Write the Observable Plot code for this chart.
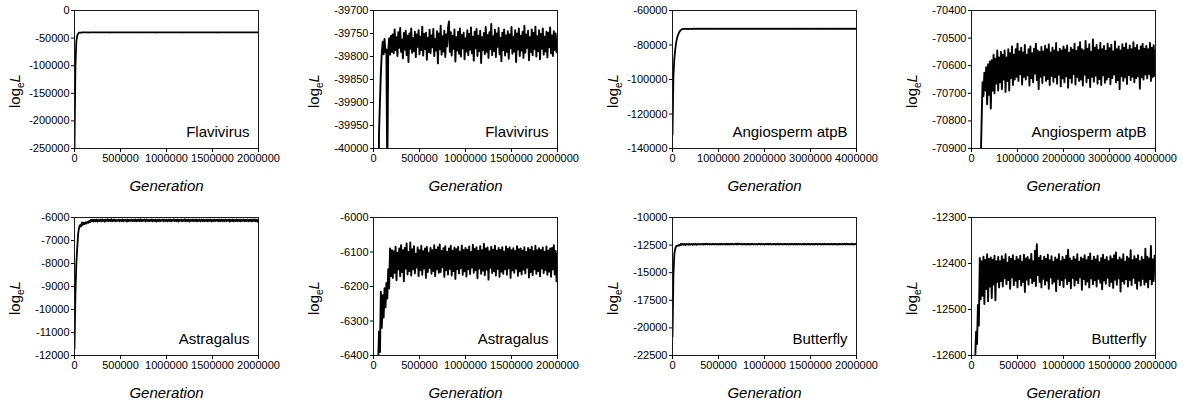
<!DOCTYPE html>
<html>
<head>
<meta charset="utf-8">
<script src="https://cdn.jsdelivr.net/npm/d3@7"></script>
<script src="https://cdn.jsdelivr.net/npm/@observablehq/plot@0.6"></script>
<style>
  html, body { margin: 0; padding: 0; background: #fff; overflow: hidden; }
  #chart { position: relative; width: 1200px; height: 404px; }
  .panel { position: absolute; width: 299px; height: 207px; }
  .panel svg { max-width: none !important; }
</style>
</head>
<body>
<div id="chart"></div>
<script>
// ---- Data: log-likelihood traces (sampled every `step` generations) ----
const flaviStep = 10000;
const flavivirus = [
  -248000, -100000, -56000, -45500, -41800, -40250, -39965, -39900, -39835, -39792,
  -39768, -39795, -39762, -39790, -39785, -40060, -39788, -39760, -39796, -39755, -39790,
  -39752, -39793, -39741, -39786, -39758, -39799, -39747, -39781, -39738, -39790,
  -39763, -39804, -39749, -39785, -39744, -39797, -39755, -39812, -39750, -39783,
  -39739, -39792, -39760, -39788, -39746, -39801, -39752, -39779, -39743, -39795,
  -39757, -39786, -39735, -39798, -39751, -39784, -39748, -39807, -39759, -39790,
  -39742, -39793, -39754, -39780, -39740, -39799, -39762, -39787, -39745, -39815,
  -39750, -39784, -39733, -39796, -39756, -39789, -39744, -39801, -39752, -39778,
  -39738, -39724, -39790, -39747, -39798, -39755, -39783, -39741, -39811, -39758,
  -39787, -39746, -39794, -39739, -39800, -39753, -39782, -39748, -39806, -39760,
  -39789, -39743, -39797, -39751, -39785, -39737, -39793, -39757, -39809, -39746,
  -39782, -39740, -39799, -39755, -39788, -39744, -39814, -39758, -39786, -39749,
  -39795, -39736, -39790, -39753, -39803, -39747, -39784, -39729, -39797, -39756,
  -39788, -39742, -39801, -39750, -39779, -39738, -39795, -39759, -39810, -39748,
  -39786, -39741, -39798, -39754, -39790, -39745, -39805, -39752, -39782, -39736,
  -39794, -39757, -39789, -39743, -39812, -39750, -39785, -39739, -39799, -39755,
  -39787, -39746, -39803, -39733, -39792, -39752, -39781, -39744, -39808, -39758,
  -39790, -39741, -39797, -39749, -39784, -39735, -39800, -39756, -39788, -39743,
  -39806, -39751, -39783, -39739, -39796, -39757, -39789, -39746, -39802, -39748,
  -39780, -39737, -39793, -39754, -39799, -39745, -39786, -39750, -39791, -39760
];

const angioStep = 20000;
const angiosperm = [
  -132000, -98000, -88000, -82500, -78500, -76000, -74200, -73000, -72000, -71400, -70950,
  -70800, -70660, -70710, -70625, -70690, -70605, -70740, -70595, -70705, -70585,
  -70755, -70580, -70690, -70560, -70700, -70575, -70665, -70545, -70690, -70570,
  -70660, -70550, -70685, -70560, -70650, -70545, -70695, -70570, -70655, -70540,
  -70690, -70555, -70645, -70530, -70670, -70560, -70650, -70540, -70640, -70520,
  -70655, -70548, -70630, -70535, -70668, -70552, -70640, -70525, -70650, -70560,
  -70635, -70540, -70672, -70530, -70645, -70555, -70660, -70538, -70628, -70520,
  -70652, -70545, -70685, -70550, -70640, -70532, -70663, -70548, -70635, -70528,
  -70655, -70540, -70648, -70523, -70670, -70552, -70637, -70535, -70658, -70545,
  -70642, -70518, -70665, -70550, -70632, -70538, -70675, -70545, -70646, -70530,
  -70660, -70541, -70638, -70527, -70680, -70553, -70645, -70535, -70662, -70542,
  -70630, -70520, -70668, -70547, -70641, -70532, -70655, -70515, -70650, -70540,
  -70672, -70545, -70633, -70510, -70660, -70538, -70645, -70522, -70677, -70549,
  -70640, -70505, -70658, -70535, -70636, -70525, -70665, -70543, -70648, -70518,
  -70670, -70540, -70635, -70528, -70662, -70546, -70650, -70520, -70641, -70537,
  -70667, -70524, -70645, -70548, -70632, -70512, -70660, -70540, -70652, -70530,
  -70685, -70545, -70638, -70522, -70655, -70535, -70643, -70519, -70666, -70542,
  -70634, -70527, -70652, -70540, -70640, -70515, -70660, -70536, -70645, -70525,
  -70638, -70545, -70683, -70530, -70642, -70521, -70650, -70538, -70632, -70528,
  -70646, -70540, -70630, -70518, -70655, -70535, -70641, -70526, -70637, -70545
];

const astraStep = 10000;
const astragalus = [
  -11700, -9300, -8000, -7300, -6700, -6430, -6330, -6390, -6215, -6320,
  -6225, -6290, -6205, -6260, -6190, -6235, -6150, -6205, -6090, -6170, -6095,
  -6175, -6098, -6160, -6085, -6182, -6102, -6150, -6090, -6170, -6080,
  -6158, -6095, -6185, -6088, -6148, -6075, -6165, -6100, -6155, -6072,
  -6168, -6092, -6150, -6083, -6162, -6105, -6145, -6087, -6170, -6095,
  -6152, -6082, -6166, -6098, -6148, -6090, -6175, -6085, -6158, -6102,
  -6146, -6088, -6163, -6095, -6155, -6080, -6170, -6093, -6150, -6086,
  -6160, -6078, -6158, -6097, -6144, -6089, -6172, -6083, -6153, -6100,
  -6165, -6090, -6149, -6082, -6168, -6096, -6155, -6087, -6178, -6092,
  -6150, -6085, -6162, -6099, -6147, -6081, -6166, -6094, -6156, -6088,
  -6171, -6093, -6150, -6084, -6164, -6100, -6145, -6079, -6160, -6091,
  -6152, -6086, -6176, -6097, -6148, -6083, -6163, -6095, -6154, -6076,
  -6167, -6090, -6151, -6087, -6180, -6098, -6146, -6085, -6161, -6093,
  -6155, -6082, -6168, -6096, -6149, -6088, -6172, -6094, -6157, -6086,
  -6163, -6099, -6150, -6084, -6166, -6091, -6147, -6087, -6175, -6095,
  -6153, -6089, -6160, -6097, -6148, -6083, -6169, -6092, -6156, -6090,
  -6165, -6096, -6151, -6086, -6162, -6100, -6145, -6088, -6174, -6093,
  -6158, -6085, -6167, -6098, -6150, -6082, -6163, -6095, -6155, -6089,
  -6170, -6094, -6148, -6087, -6161, -6099, -6152, -6084, -6166, -6096,
  -6157, -6090, -6172, -6088, -6150, -6080, -6165, -6097, -6185, -6105
];

const butterStep = 10000;
const butterfly = [
  -20800, -15200, -13300, -12820, -12610, -12548, -12575, -12490, -12535, -12388, -12478,
  -12395, -12470, -12385, -12488, -12392, -12455, -12380, -12482, -12390, -12450,
  -12387, -12475, -12392, -12445, -12383, -12480, -12395, -12440, -12386, -12452,
  -12395, -12438, -12384, -12450, -12392, -12432, -12380, -12445, -12398, -12436,
  -12386, -12455, -12390, -12430, -12382, -12447, -12394, -12437, -12385, -12452,
  -12391, -12434, -12383, -12448, -12396, -12440, -12381, -12462, -12389, -12435,
  -12386, -12446, -12392, -12431, -12379, -12443, -12395, -12438, -12372, -12449,
  -12358, -12425, -12388, -12440, -12383, -12452, -12394, -12433, -12385, -12446,
  -12390, -12437, -12381, -12455, -12393, -12430, -12384, -12444, -12396, -12439,
  -12387, -12460, -12391, -12433, -12380, -12447, -12395, -12436, -12386, -12451,
  -12392, -12432, -12383, -12445, -12370, -12438, -12389, -12454, -12394, -12431,
  -12385, -12448, -12391, -12436, -12380, -12443, -12396, -12430, -12387, -12457,
  -12390, -12434, -12382, -12446, -12393, -12439, -12386, -12452, -12378, -12432,
  -12394, -12445, -12385, -12436, -12391, -12450, -12383, -12433, -12397, -12442,
  -12388, -12456, -12381, -12437, -12392, -12444, -12386, -12431, -12395, -12449,
  -12384, -12440, -12390, -12453, -12382, -12435, -12376, -12446, -12393, -12432,
  -12387, -12461, -12391, -12438, -12380, -12444, -12396, -12434, -12385, -12450,
  -12389, -12436, -12371, -12447, -12393, -12431, -12384, -12443, -12390, -12455,
  -12382, -12437, -12395, -12448, -12386, -12433, -12392, -12446, -12368, -12440,
  -12385, -12452, -12389, -12434, -12362, -12445, -12391, -12438, -12383, -12410
];

// ---- Tick labels ----
const xTicks2M = [0, 500000, 1000000, 1500000, 2000000];
const xTicks4M = [0, 1000000, 2000000, 3000000, 4000000];
const flaviFullTicks = [0, -50000, -100000, -150000, -200000, -250000];
const flaviZoomTicks = [-39700, -39750, -39800, -39850, -39900, -39950, -40000];
const angioFullTicks = [-60000, -80000, -100000, -120000, -140000];
const angioZoomTicks = [-70400, -70500, -70600, -70700, -70800, -70900];
const astraFullTicks = [-6000, -7000, -8000, -9000, -10000, -11000, -12000];
const astraZoomTicks = [-6000, -6100, -6200, -6300, -6400];
const butterFullTicks = [-10000, -12500, -15000, -17500, -20000, -22500];
const butterZoomTicks = [-12300, -12400, -12500, -12600];

const xLabel = "Generation";

// ---- Panels ----
const panels = [
  {name: "Flavivirus", values: flavivirus, step: flaviStep, xTicks: xTicks2M, yTicks: flaviFullTicks, full: true},
  {name: "Flavivirus", values: flavivirus, step: flaviStep, xTicks: xTicks2M, yTicks: flaviZoomTicks, full: false},
  {name: "Angiosperm atpB", values: angiosperm, step: angioStep, xTicks: xTicks4M, yTicks: angioFullTicks, full: true},
  {name: "Angiosperm atpB", values: angiosperm, step: angioStep, xTicks: xTicks4M, yTicks: angioZoomTicks, full: false},
  {name: "Astragalus", values: astragalus, step: astraStep, xTicks: xTicks2M, yTicks: astraFullTicks, full: true},
  {name: "Astragalus", values: astragalus, step: astraStep, xTicks: xTicks2M, yTicks: astraZoomTicks, full: false},
  {name: "Butterfly", values: butterfly, step: butterStep, xTicks: xTicks2M, yTicks: butterFullTicks, full: true},
  {name: "Butterfly", values: butterfly, step: butterStep, xTicks: xTicks2M, yTicks: butterZoomTicks, full: false}
];

const FONT = "'Liberation Sans', Arial, Helvetica, sans-serif";
const W = 299, H = 207;
const mL = 74, mR = 41, mT = 10, mB = 59;
const chart = document.getElementById("chart");

panels.forEach((p, k) => {
  const col = k % 4, row = Math.floor(k / 4);
  const data = p.values.map((v, i) => ({gen: i * p.step, logL: v}));
  const xDom = d3.extent(p.xTicks);
  const yDom = d3.extent(p.yTicks);
  const fmt = d => String(d);

  const plot = Plot.plot({
    width: W, height: H,
    marginLeft: mL, marginRight: mR, marginTop: mT, marginBottom: mB,
    style: {fontFamily: FONT, fontSize: "11px", color: "#000", background: "transparent", overflow: "visible", maxWidth: "none"},
    x: {domain: xDom},
    y: {domain: yDom},
    marks: [
      Plot.line(data, {x: "gen", y: "logL", stroke: "#000", strokeWidth: p.full ? 1.8 : 1.9, clip: true}),
      Plot.frame({stroke: "#1a1a1a", strokeWidth: 1}),
      Plot.axisX({ticks: p.xTicks, tickFormat: fmt, tickSize: 4, tickPadding: 2, label: null, fontSize: 11}),
      Plot.axisY({ticks: p.yTicks, tickFormat: fmt, tickSize: 3, tickPadding: 2, label: null, fontSize: 11}),
      Plot.text([p.name], {frameAnchor: "bottom-right", dx: -9, dy: -12, fontSize: 15, fill: "#000"}),
      Plot.text([xLabel], {frameAnchor: "bottom", lineAnchor: "middle", dy: 38, fontSize: 15, fontStyle: "italic", fill: "#000"})
    ]
  });
  plot.style.maxWidth = "none";
  plot.setAttribute("width", W);
  plot.setAttribute("height", H);

  // y-axis label: log_e L
  const svg = d3.select(plot);
  const cy = mT + 81;
  const t = svg.append("text")
    .attr("transform", `translate(${mL - 59},${cy}) rotate(-90)`)
    .attr("text-anchor", "middle")
    .attr("dy", "0.35em")
    .attr("font-family", FONT)
    .attr("font-size", 15)
    .attr("fill", "#000");
  t.append("tspan").text("log");
  t.append("tspan").attr("font-size", 10).attr("dy", 4).text("e");
  t.append("tspan").attr("font-style", "italic").attr("dy", -4).text("L");

  const div = document.createElement("div");
  div.className = "panel";
  div.style.left = (col * W) + "px";
  div.style.top = (row * H) + "px";
  div.appendChild(plot);
  chart.appendChild(div);
});
</script>
</body>
</html>
